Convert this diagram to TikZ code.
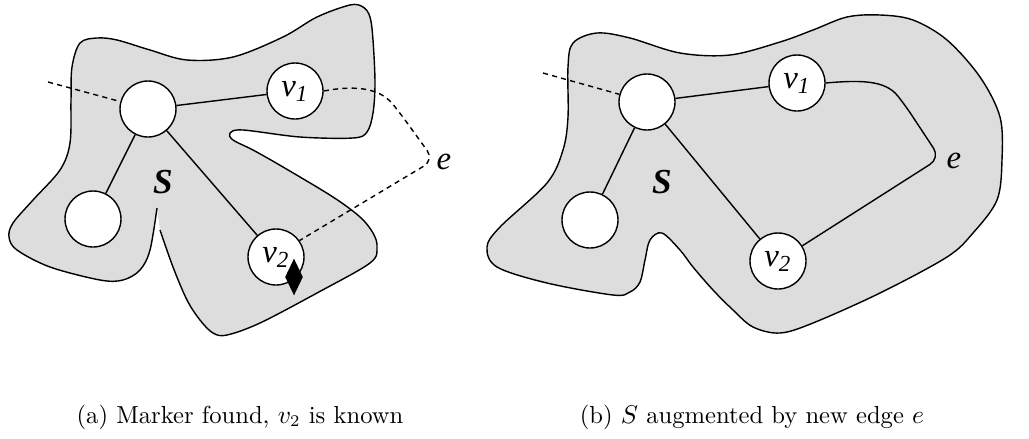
\documentclass[tikz,border=0pt]{standalone}
\usepackage{fontspec}
\usepackage{xcolor}
\usepackage{tikz}
\usetikzlibrary{shapes.geometric}
\newfontfamily\lblfont{Liberation Serif}
\definecolor{blobgray}{RGB}{221,221,221}

\begin{document}
\begin{tikzpicture}[x=0.015cm, y=-0.015cm,
    vtx/.style={draw, line width=0.6pt, circle, fill=white, minimum size=0.84cm, inner sep=0pt, font=\fontsize{14}{16}\lblfont\itshape},
    blob/.style={draw, line width=0.6pt, fill=blobgray},
    edge/.style={line width=0.6pt},
    dsh/.style={line width=0.6pt, dash pattern=on 2.2pt off 1.8pt},
    marker/.style={diamond, fill=black, minimum width=0.27cm, minimum height=0.555cm, inner sep=0pt},
    lbl/.style={inner sep=0pt, font=\fontsize{14}{16}\lblfont\itshape},
    slbl/.style={inner sep=0pt, font=\fontsize{15}{17}\lblfont\bfseries\itshape},
    captxt/.style={anchor=base, inner sep=0pt, font=\fontsize{10.5}{12}\selectfont}]
    \useasboundingbox (0,0) rectangle (1029,438);
    % (a) left blob, open at the slit
    \draw[blob] plot[smooth, tension=0.55] coordinates {(160,230) (173,267) (187,300) (200,320) (213,333) (227,335)
      (260,323) (317,293) (370,263) (377,247) (373,233) (360,217) (333,197) (283,167) (253,150) (233,140)
      (230,133) (243,130) (300,137) (353,138) (367,132) (373,113) (375,83) (373,40) (370,17) (363,7) (350,5)
      (317,17) (283,37) (233,57) (187,60) (150,50) (117,40) (97,38) (80,43) (72,67) (71,100) (70,143)
      (60,170) (33,200) (13,223) (9,237) (17,250) (50,267) (100,280) (123,280) (140,270) (150,250) (157,208)};
    \node[vtx] (ca) at (148,109) {};
    \node[vtx] (v1a) at (295,91) {v\textsubscript{1}};
    \node[vtx] (la) at (93,219) {};
    \node[vtx] (v2a) at (276,257) {v\textsubscript{2}};
    \node[marker] (mk) at (294,277) {};
    \node[slbl] (sa) at (163,182) {S};
    \node[lbl] (ea) at (444,162) {e};
    \coordinate (ta) at (48,82);
    \draw[edge] (ca) -- (v1a); \draw[edge] (ca) -- (la); \draw[edge] (ca) -- (v2a);
    \draw[dsh] (ta) -- (ca);
    \draw[dsh, rounded corners=5pt] (v1a.east) .. controls (350,86) and (378,86) .. (400,113) -- (434,160) -- (v2a.35);
    % (b) right blob
    \draw[blob] plot[smooth cycle, tension=0.55] coordinates {(573,43) (597,33) (630,38) (680,53) (730,55) (780,42)
      (813,30) (847,17) (880,15) (913,20) (947,40) (980,77) (1000,117) (1002,160) (997,200) (973,233)
      (947,257) (880,293) (813,323) (780,333) (753,327) (733,310) (713,290) (693,267) (680,250) (662,233)
      (650,240) (645,260) (640,282) (630,292) (613,295) (547,283) (497,267) (487,247) (500,227)
      (547,183) (563,150) (568,117) (568,67)};
    \node[vtx] (cb) at (647,102) {};
    \node[vtx] (v1b) at (797,83) {v\textsubscript{1}};
    \node[vtx] (lb) at (590,220) {};
    \node[vtx] (v2b) at (778,261) {v\textsubscript{2}};
    \node[slbl] (sb) at (662,182) {S};
    \node[lbl] (eb) at (954,161) {e};
    \coordinate (tb) at (543,73);
    \draw[edge] (cb) -- (v1b); \draw[edge] (cb) -- (lb); \draw[edge] (cb) -- (v2b);
    \draw[dsh] (tb) -- (cb);
    \draw[edge, rounded corners=5pt] (v1b.east) .. controls (860,80) and (885,80) .. (905,105) -- (940,158) -- (v2b.32);
    % captions
    \node[captxt] (capa) at (240,423) {(a) Marker found, $v_2$ is known};
    \node[captxt] (capb) at (752,423) {(b) $S$ augmented by new edge $e$};
\end{tikzpicture}
\end{document}
